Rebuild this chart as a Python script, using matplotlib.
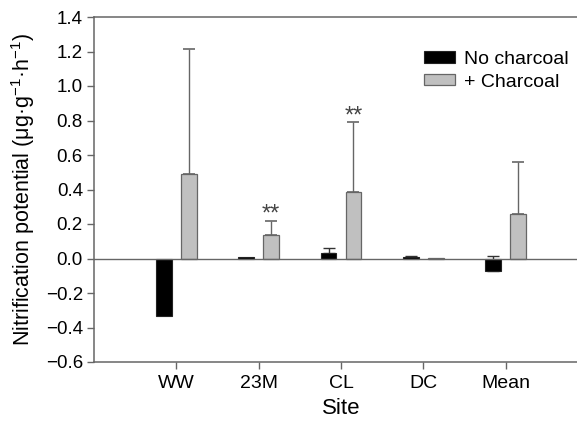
import matplotlib
matplotlib.use("Agg")
import matplotlib.pyplot as plt
import numpy as np

sites = ["WW", "23M", "CL", "DC", "Mean"]
no_charcoal = [-0.336, 0.010, 0.033, 0.008, -0.070]
no_charcoal_err = [0.0, 0.0, 0.025, 0.005, 0.085]
plus_charcoal = [0.487, 0.134, 0.388, 0.003, 0.256]
plus_charcoal_err = [0.727, 0.086, 0.401, 0.0, 0.305]
stars = ["", "**", "**", "", ""]
yticks = [-0.6, -0.4, -0.2, 0.0, 0.2, 0.4, 0.6, 0.8, 1.0, 1.2, 1.4]

plt.rcParams['font.family'] = ['Liberation Sans', 'DejaVu Sans']
plt.rcParams['mathtext.fontset'] = 'custom'
plt.rcParams['mathtext.rm'] = 'Liberation Sans'
plt.rcParams['mathtext.it'] = 'Liberation Sans'

line_c = '#666666'
W, H = 577, 421
fig = plt.figure(figsize=(W / 100, H / 100), dpi=100)
ax = fig.add_axes([94 / W, 1 - 362 / H, 494 / W, 345 / H])

x = np.arange(len(sites))
bw = 0.19
off = 0.15
ax.bar(x - off, no_charcoal, bw, color='black', edgecolor='#222222', linewidth=0.8,
       label='No charcoal', zorder=3)
ax.bar(x + off, plus_charcoal, bw, color='#c0c0c0', edgecolor=line_c, linewidth=0.9,
       label='+ Charcoal', zorder=3)

for xi, v, e in zip(x - off, no_charcoal, no_charcoal_err):
    if e > 0:
        ax.errorbar(xi, v, yerr=[[0], [e]], fmt='none', ecolor='#333333',
                    elinewidth=1.0, capsize=4, capthick=1.0, zorder=2)
for xi, v, e in zip(x + off, plus_charcoal, plus_charcoal_err):
    if e > 0:
        ax.errorbar(xi, v, yerr=[[0], [e]], fmt='none', ecolor=line_c,
                    elinewidth=1.0, capsize=4.3, capthick=1.2, zorder=2)
for xi, v, e, s in zip(x + off, plus_charcoal, plus_charcoal_err, stars):
    if s:
        ax.text(xi, v + e - 0.002, s, ha='center', va='baseline', fontsize=17,
                color='#444444')

ax.axhline(0, color=line_c, linewidth=1.0, zorder=4)
ax.set_xlim(-1, 5)
ax.set_ylim(-0.6, 1.4)
ax.set_yticks(yticks)
ax.set_yticklabels([f"{t:.1f}".replace('-', '\u2212') for t in yticks])
ax.set_xticks(x)
ax.set_xticklabels(sites)
ax.tick_params(axis='both', direction='out', length=5, width=1.0,
               colors=line_c, labelcolor='black')
ax.tick_params(axis='x', pad=4, labelsize=14)
ax.tick_params(axis='y', pad=3, labelsize=13.5)
for sp in ['left', 'bottom', 'top']:
    ax.spines[sp].set_color(line_c)
    ax.spines[sp].set_linewidth(1.1)
ax.spines['right'].set_visible(False)

ax.set_xlabel('Site', fontsize=16, labelpad=5)
ax.set_ylabel(r'Nitrification potential (μg·g$^{-1}$·h$^{-1}$)', fontsize=15.5, labelpad=6)

leg = ax.legend(loc='upper left', bbox_to_anchor=(420 / W, 1 - 47 / H),
                bbox_transform=fig.transFigure, frameon=False, fontsize=14,
                handlelength=1.6, handleheight=0.5, handletextpad=0.45,
                labelspacing=0.3, borderpad=0.2, borderaxespad=0)

fig.savefig('out.png', dpi=100)
